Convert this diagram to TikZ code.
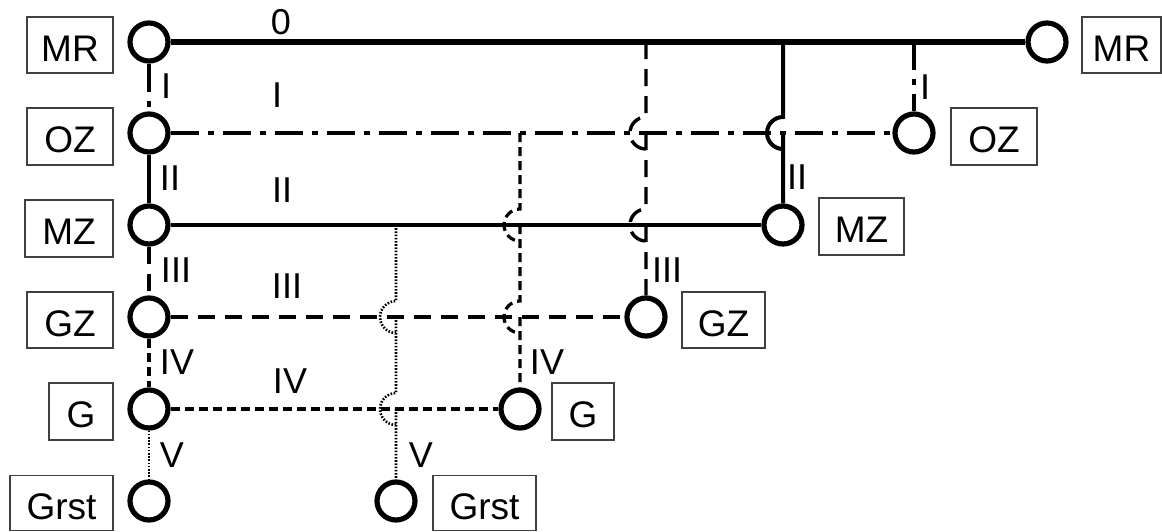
\documentclass[tikz,border=0pt]{standalone}
\usepackage{fontspec}
\setmainfont{Liberation Sans}
\begin{document}
\begin{tikzpicture}[x=0.5pt,y=-0.5pt,
  port/.style={circle,draw,line width=2.6pt,minimum size=19pt,inner sep=0pt},
  tag/.style={draw=black!75,line width=0.75pt,inner sep=0pt,text height=16pt,text depth=0pt,
    font=\fontsize{18.5}{20}\selectfont},
  lbl/.style={inner sep=0pt,font=\fontsize{18}{20}\selectfont},
  lvl0/.style={line width=2.6pt},
  lvlI/.style={line width=2.2pt,dash pattern=on 14pt off 4.5pt on 3pt off 4.5pt},
  lvlII/.style={line width=2pt},
  lvlIII/.style={line width=1.7pt,dash pattern=on 8.5pt off 5pt},
  lvlIV/.style={line width=1.6pt,dash pattern=on 4.5pt off 2.5pt},
  lvlV/.style={line width=1.3pt,dash pattern=on 0.8pt off 0.8pt},
  hop/.style={start angle=90,end angle=270,radius=8pt}
]
\useasboundingbox (0,0) rectangle (1162,531);

% connection points, left column
\node[port] (cMR)   at (149,42)  {};
\node[port] (cOZ)   at (149,133) {};
\node[port] (cMZ)   at (149,225) {};
\node[port] (cGZ)   at (149,317) {};
\node[port] (cG)    at (149,409) {};
\node[port] (cGrst) at (149,501) {};

% connection points, right ends
\node[port] (rMR)   at (1047,42) {};
\node[port] (rOZ)   at (914,133) {};
\node[port] (rMZ)   at (783,225) {};
\node[port] (rGZ)   at (646,317) {};
\node[port] (rG)    at (520,409) {};
\node[port] (rGrst) at (396,501) {};

% name tags
\node[tag,minimum width=43pt,minimum height=28pt]   (bMR)   at (70,45)     {MR};
\node[tag,minimum width=43pt,minimum height=28.5pt] (bOZ)   at (70,136.5)  {OZ};
\node[tag,minimum width=44pt,minimum height=28.5pt] (bMZ)   at (69,228.5)  {MZ};
\node[tag,minimum width=43pt,minimum height=28pt]   (bGZ)   at (70,320)    {GZ};
\node[tag,minimum width=32pt,minimum height=28.5pt] (bG)    at (81,411.5)  {G};
\node[tag,minimum width=51.5pt,minimum height=27.5pt] (bGrst) at (61.5,503) {Grst};

\node[tag,minimum width=39.5pt,minimum height=28pt]   (tMR)   at (1121.5,45)  {MR};
\node[tag,minimum width=43pt,minimum height=28.5pt]   (tOZ)   at (994,136.5)  {OZ};
\node[tag,minimum width=42.5pt,minimum height=28.5pt] (tMZ)   at (861.5,226.5) {MZ};
\node[tag,minimum width=41.5pt,minimum height=28pt]   (tGZ)   at (723.5,320)  {GZ};
\node[tag,minimum width=31pt,minimum height=28.5pt]   (tG)    at (583,411.5)  {G};
\node[tag,minimum width=51.5pt,minimum height=27.5pt] (tGrst) at (484.5,503)  {Grst};

% horizontal lines
\draw[lvl0]   (cMR) -- (rMR);
\draw[lvlI]   (cOZ) -- (rOZ);
\draw[lvlII]  (cMZ) -- (rMZ);
\draw[lvlIII] (cGZ) -- (rGZ);
\draw[lvlIV]  (cG)  -- (rG);

% left column links
\draw[lvlI]   (cMR) -- (cOZ);
\draw[lvlII]  (cOZ) -- (cMZ);
\draw[lvlIII] (cMZ) -- (cGZ);
\draw[lvlIV]  (cGZ) -- (cG);
\draw[lvlV]   (cG)  -- (cGrst);

% branch taps and crossings
\coordinate (t1)  at (rOZ |- cMR);
\coordinate (t2)  at (rMZ |- cMR);
\coordinate (t3)  at (rGZ |- cMR);
\coordinate (t4)  at (rG |- cOZ);
\coordinate (t5)  at (rGrst |- cMZ);
\coordinate (x2a) at (rMZ |- cOZ);
\coordinate (x3a) at (rGZ |- cOZ);
\coordinate (x3b) at (rGZ |- cMZ);
\coordinate (x4a) at (rG |- cMZ);
\coordinate (x4b) at (rG |- cGZ);
\coordinate (x5a) at (rGrst |- cGZ);
\coordinate (x5b) at (rGrst |- cG);

% vertical branches with hops over crossing lines
\draw[lvlI] (t1) -- (rOZ);
\draw[lvlII] (t2) -- ([yshift=8pt]x2a) arc[hop]
  (x2a) -- (rMZ);
\draw[lvlIII] (t3) -- ([yshift=8pt]x3a) arc[hop]
  (x3a) -- ([yshift=8pt]x3b) arc[hop]
  (x3b) -- (rGZ);
\draw[lvlIV] (t4) -- ([yshift=8pt]x4a) arc[hop]
  (x4a) -- ([yshift=8pt]x4b) arc[hop]
  (x4b) -- (rG);
\draw[lvlV] (t5) -- ([yshift=8pt]x5a) arc[hop]
  (x5a) -- ([yshift=8pt]x5b) arc[hop]
  (x5b) -- (rGrst);

% level labels
\node[lbl] (n0)   at (281,22)  {0};
\node[lbl] (nI)   at (277,95)  {I};
\node[lbl] (nII)  at (282,190) {II};
\node[lbl] (nIII) at (287,286) {III};
\node[lbl] (nIV)  at (290,381) {IV};

\node[lbl] (vIa)   at (166,86)  {I};
\node[lbl] (vIIa)  at (170,178) {II};
\node[lbl] (vIIIa) at (176,270) {III};
\node[lbl] (vIVa)  at (177,362) {IV};
\node[lbl] (vVa)   at (172,455) {V};

\node[lbl] (vIb)   at (925,87)  {I};
\node[lbl] (vIIb)  at (797,177) {II};
\node[lbl] (vIIIb) at (667,270) {III};
\node[lbl] (vIVb)  at (547,362) {IV};
\node[lbl] (vVb)   at (421,455) {V};
\end{tikzpicture}
\end{document}
